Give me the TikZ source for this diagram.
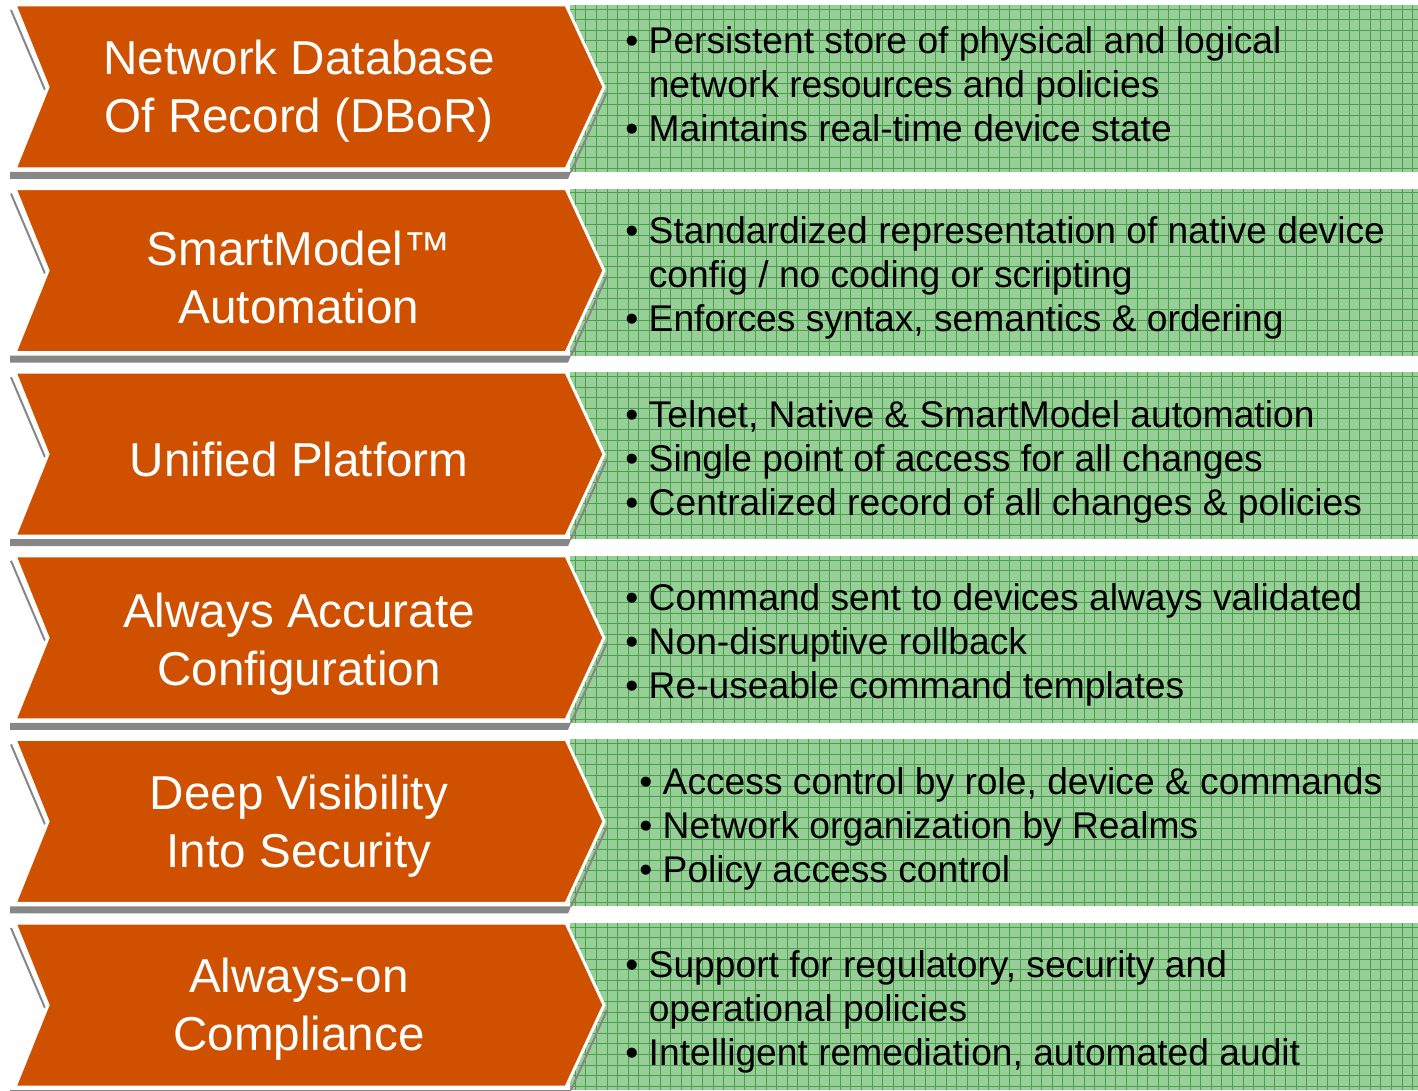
\documentclass[tikz,border=0pt]{standalone}
\usepackage{fontspec}
\setmainfont{Liberation Sans}
\definecolor{bandOrange}{RGB}{207,81,0}
\definecolor{bandGreen}{RGB}{152,207,152}
\definecolor{gridGreen}{RGB}{75,160,75}
\definecolor{shadowGray}{RGB}{135,135,135}

\begin{document}
\begin{tikzpicture}[x=0.5pt, y=-0.5pt,
	title/.style={text=white, align=center, font=\fontsize{23.8}{29}\selectfont},
	info/.style={anchor=west, align=left, inner sep=0, font=\fontsize{18.6}{22}\selectfont},
	chevron/.style={fill=bandOrange, draw=white, line width=1.5pt}]

	\useasboundingbox (0,0) rectangle (1418,1091);

	\def\bandRow#1{
		\fill[shadowGray] (10,#1+167) -- (571,#1+167) -- (568,#1+174) -- (10,#1+174) -- cycle;
		\draw[shadowGray, line width=1pt] (11,#1+5) -- (45,#1+85);
		\fill[bandGreen] (570,#1) rectangle (1418,#1+167);
		\foreach \gx in {575,585.6,...,1418}
			\draw[gridGreen, line width=0.3pt] (\gx,#1) -- (\gx,#1+167);
		\foreach \gy in {4,14.6,...,167}
			\draw[gridGreen, line width=0.3pt] (570,#1+\gy) -- (1418,#1+\gy);
		\draw[shadowGray, line width=1pt] (607,#1+87) -- (571,#1+167);
		\filldraw[chevron] (15,#1) -- (566,#1) -- (604,#1+82) -- (566,#1+164) -- (15,#1+164) -- (48,#1+82) -- cycle;
	}

	\bandRow{5}
	\bandRow{188.6}
	\bandRow{372.2}
	\bandRow{555.8}
	\bandRow{739.4}
	\bandRow{923}

	\node[title] (database) at (299,91) {Network Database\\Of Record (DBoR)};
	\node[title] (smartmodel) at (299,277) {SmartModel™\\Automation};
	\node[title] (platform) at (299,459) {Unified Platform};
	\node[title] (accurate) at (299,644) {Always Accurate\\Configuration};
	\node[title] (visibility) at (299,826) {Deep Visibility\\Into Security};
	\node[title] (compliance) at (299,1009) {Always-on\\Compliance};

	\node[info] (databaseInfo) at (625,84) {\textbullet\ Persistent store of physical and logical\\
		\hphantom{\textbullet\ }network resources and policies\\
		\textbullet\ Maintains real-time device state};
	\node[info] (smartmodelInfo) at (625,278) {\textbullet\ Standardized representation of native device\\
		\hphantom{\textbullet\ }config / no coding or scripting\\
		\textbullet\ Enforces syntax, semantics \& ordering};
	\node[info] (platformInfo) at (625,462) {\textbullet\ Telnet, Native \& SmartModel automation\\
		\textbullet\ Single point of access for all changes\\
		\textbullet\ Centralized record of all changes \& policies};
	\node[info] (accurateInfo) at (625,645) {\textbullet\ Command sent to devices always validated\\
		\textbullet\ Non-disruptive rollback\\
		\textbullet\ Re-useable command templates};
	\node[info] (visibilityInfo) at (639,829) {\textbullet\ Access control by role, device \& commands\\
		\textbullet\ Network organization by Realms\\
		\textbullet\ Policy access control};
	\node[info] (complianceInfo) at (625,1012) {\textbullet\ Support for regulatory, security and\\
		\hphantom{\textbullet\ }operational policies\\
		\textbullet\ Intelligent remediation, automated audit};

\end{tikzpicture}
\end{document}
